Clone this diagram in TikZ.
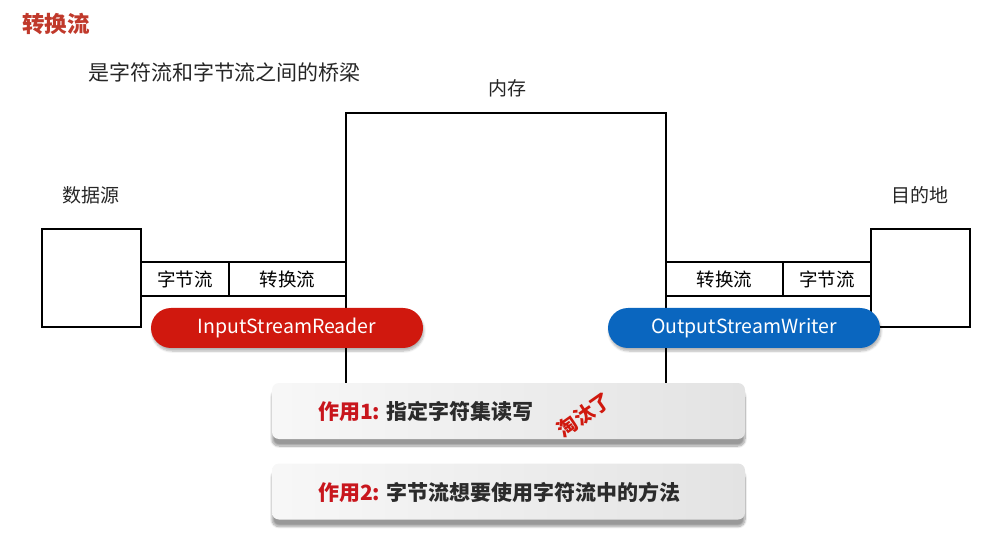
\documentclass[tikz,border=0pt]{standalone}
\usepackage{fontspec}
\setmainfont{Noto Sans CJK SC}
\usetikzlibrary{shadows,shadows.blur}
\definecolor{titlered}{HTML}{C0392B}
\definecolor{readerred}{HTML}{D0180E}
\definecolor{writerblue}{HTML}{0A66BF}
\definecolor{usered}{HTML}{C8161D}
\definecolor{usetext}{HTML}{2B2B2B}
\tikzset{
  frame/.style={draw, line width=2.8pt},
  cell/.style={draw, line width=2.8pt, minimum height=34, inner sep=0pt, font=\fontsize{18.5}{20}\selectfont},
  pill/.style={rounded corners=20, minimum width=272, minimum height=40, inner sep=0pt, text=white, font=\fontsize{19.5}{22}\selectfont, blur shadow={shadow blur steps=6, shadow xshift=1pt, shadow yshift=-3pt, shadow opacity=30}},
  card/.style={rounded corners=7, minimum width=473, minimum height=56, inner sep=0pt, left color=white!97!black, right color=black!11, blur shadow={shadow blur steps=10, shadow xshift=0pt, shadow yshift=-7pt, shadow opacity=40}},
  cardtext/.style={anchor=west, inner sep=0pt, font=\fontsize{21}{24}\selectfont\bfseries, text=usetext},
  plain/.style={font=\fontsize{19}{22}\selectfont, text=black!85}
}
\begin{document}
\begin{tikzpicture}[x=1pt, y=-1pt]
\useasboundingbox (0,0) rectangle (999,537);
% title and subtitle
\node (title) [font=\fontsize{22.5}{24}\selectfont\bfseries, text=titlered] at (56,24) {转换流};
\node (bridge) [plain, font=\fontsize{21}{24}\selectfont] at (224.5,73) {是字符流和字节流之间的桥梁};
% memory
\node (memlabel) [plain] at (507,88) {内存};
\draw[frame] (346,383) |- (666,113) -- (666,383);
% source and target
\node (srclabel) [plain] at (91,195) {数据源};
\node (dstlabel) [plain] at (920,195) {目的地};
\node (src) [frame, minimum width=99, minimum height=98, inner sep=0pt] at (91.5,278) {};
\node (dst) [frame, minimum width=99, minimum height=98, inner sep=0pt] at (920.5,278) {};
% streams
\node (inbyte) [cell, minimum width=88] at (185,279) {字节流};
\node (inconv) [cell, minimum width=117] at (287.5,279) {转换流};
\node (outconv) [cell, minimum width=117] at (724.5,279) {转换流};
\node (outbyte) [cell, minimum width=88] at (827,279) {字节流};
\node (reader) [pill, fill=readerred] at (287,328) {InputStreamReader};
\node (writer) [pill, fill=writerblue] at (744,328) {OutputStreamWriter};
% uses
\node (use1) [card] at (508.5,411) {};
\node (use2) [card] at (508.5,491.5) {};
\node (use1text) [cardtext] at (318,411) {\textcolor{usered}{作用1:} 指定字符集读写};
\node (use2text) [cardtext] at (318,492) {\textcolor{usered}{作用2:} 字节流想要使用字符流中的方法};
\node (stamp) [rotate=35, inner sep=0pt, font=\fontsize{20}{22}\selectfont\bfseries, text=readerred] at (584,415) {淘汰了};
\end{tikzpicture}
\end{document}
